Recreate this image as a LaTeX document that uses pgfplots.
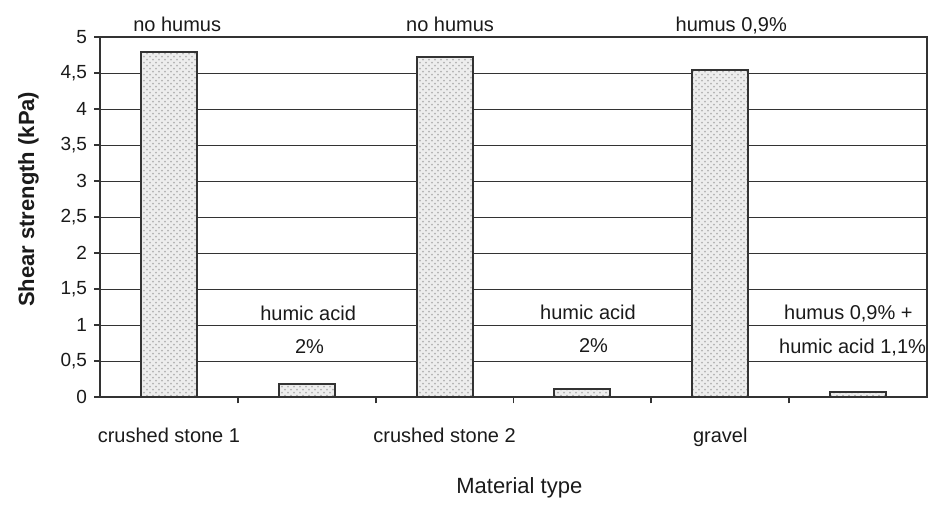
\documentclass[border=0pt]{standalone}
\usepackage{pgfplots}
\pgfplotsset{compat=1.18}
\usepackage{fontspec}
\setmainfont{Liberation Sans}
\usetikzlibrary{patterns}
\definecolor{ink}{HTML}{333333}
\definecolor{txt}{HTML}{1A1A1A}
\begin{document}
\begin{tikzpicture}
\begin{axis}[
  name=ax,
  scale only axis, width=413.5pt, height=180pt,
  xmin=-0.5, xmax=5.5, ymin=0, ymax=5,
  clip=false,
  ytick={0,0.5,1,1.5,2,2.5,3,3.5,4,4.5,5},
  xtick={0.5,1.5,2.5,3.5,4.5},
  xticklabels={,,,,},
  extra x ticks={0,2,4},
  extra x tick labels={crushed stone 1,crushed stone 2,gravel},
  extra x tick style={major tick length=0pt, tick label style={anchor=base, yshift=-22.5pt, font=\fontsize{10}{12}\selectfont}},
  major tick length=3pt,
  tick align=outside,
  xtick pos=left, ytick pos=left,
  ymajorgrids,
  grid style={ink, line width=0.8pt},
  axis line style={ink, line width=1pt},
  every tick/.style={ink, line width=0.9pt},
  tick label style={font=\fontsize{9.5}{11}\selectfont, text=txt},
  ylabel={\textbf{Shear strength (kPa)}},
  ylabel style={at={(axis description cs:-0.0798,0.55)}, anchor=base, font=\fontsize{11}{13}\selectfont, text=txt},
  xlabel={Material type},
  xlabel style={at={(axis description cs:0.507,-0.267)}, anchor=base, font=\fontsize{11}{13}\selectfont, text=txt},
  /pgf/number format/use comma,
  /pgf/number format/1000 sep={},
  /pgf/number format/assume math mode=true,
]
\addplot[ybar, bar width=28pt, draw=ink, line width=1pt, fill=gray!14,
  postaction={pattern=crosshatch dots, pattern color=gray!60}]
  coordinates {(0,4.80) (1,0.18) (2,4.72) (3,0.11) (4,4.55) (5,0.07)};
\begin{scope}[every node/.style={anchor=base, font=\fontsize{10}{12}\selectfont, text=txt, inner sep=0pt}]
\node at (axis cs:0.06,5.08) {no humus};
\node at (axis cs:2.04,5.08) {no humus};
\node at (axis cs:4.08,5.08) {humus 0,9\%};
\node at (axis cs:1.01,1.07) {humic acid};
\node at (axis cs:1.02,0.61) {2\%};
\node at (axis cs:3.04,1.08) {humic acid};
\node at (axis cs:3.08,0.62) {2\%};
\node at (axis cs:4.93,1.08) {humus 0,9\% +};
\node at (axis cs:4.96,0.61) {humic acid 1,1\%};
\end{scope}
\end{axis}
\pgfresetboundingbox
\path[use as bounding box] ([shift={(-50pt,-54.65pt)}]ax.south west) rectangle ([shift={(0.5pt,18.65pt)}]ax.north east);
\end{tikzpicture}
\end{document}
